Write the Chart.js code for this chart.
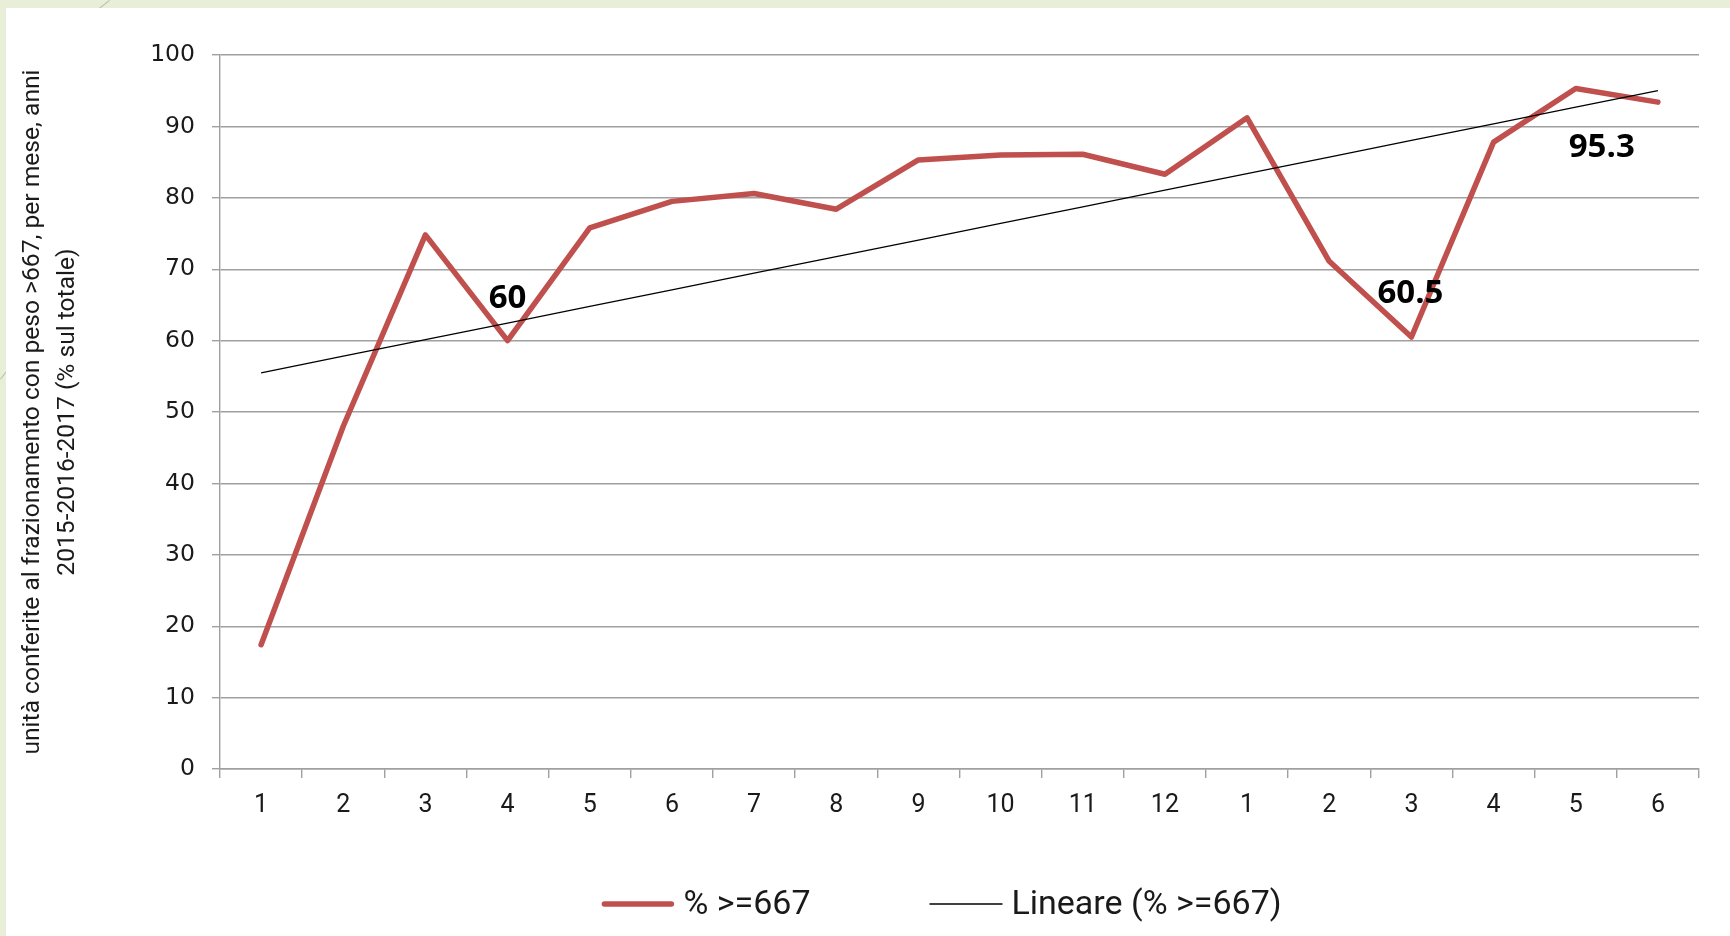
<!DOCTYPE html>
<html>
<head>
<meta charset="utf-8">
<script src="https://cdn.jsdelivr.net/npm/chart.js@4/dist/chart.umd.min.js"></script>
<style>
  html, body { margin: 0; padding: 0; }
  body { width: 1730px; height: 936px; background: #e9eed8; position: relative; overflow: hidden; }
  #panel { position: absolute; left: 6px; top: 8px; width: 1724px; height: 928px; background: #ffffff; }
  .deco { position: absolute; height: 1px; background: #b7bda0; transform-origin: 0 0; }
</style>
</head>
<body>
<div class="deco" style="left:99px; top:8px; width:13px; transform:rotate(-38deg);"></div>
<div class="deco" style="left:0px; top:379px; width:9px; transform:rotate(-52deg);"></div>
<div id="panel"><canvas id="chart"></canvas></div>
<script>
// Month numbers, Jan 2016 .. Jun 2017
const months = ['1', '2', '3', '4', '5', '6', '7', '8', '9', '10', '11', '12',
                '1', '2', '3', '4', '5', '6'];

// Share of units above 667 (% of total), per month
const share = [17.4, 48.0, 74.8, 60.0, 75.8, 79.5, 80.6, 78.4, 85.3, 86.0, 86.1, 83.3,
               91.2, 71.1, 60.5, 87.8, 95.3, 93.4];

// Months whose value is printed next to the point
const labelledMonths = [3, 14, 16];

const seriesName = '% >=667';
const trendName = 'Lineare (% >=667)';
const yTitle = ['unità conferite al frazionamento con peso >667, per mese, anni',
                '2015-2016-2017 (% sul totale)'];
const yMin = 0, yMax = 100, yStep = 10;

// Least-squares linear trend of the series
function linearTrend(values) {
  const n = values.length;
  const xs = values.map((_, i) => i + 1);
  const mx = xs.reduce((a, b) => a + b, 0) / n;
  const my = values.reduce((a, b) => a + b, 0) / n;
  let sxy = 0, sxx = 0;
  xs.forEach((x, i) => { sxy += (x - mx) * (values[i] - my); sxx += (x - mx) * (x - mx); });
  const slope = sxy / sxx;
  return xs.map(x => my + slope * (x - mx));
}
const trend = linearTrend(share);

// Styling
const RED = '#c0504d';
const GRID = '#a0a0a0';
const TEXT = '#1a1a1a';
const SANS = '"Roboto", sans-serif';
const labelOffsets = { 3: [0, -42], 14: [-1, -43], 16: [26, 59] };

// Value labels beside the highlighted points
const valueLabels = {
  id: 'valueLabels',
  afterDatasetsDraw(chart) {
    const ctx = chart.ctx;
    const meta = chart.getDatasetMeta(0);
    ctx.save();
    ctx.font = 'bold 33px "Open Sans", sans-serif';
    ctx.fillStyle = '#000';
    ctx.textAlign = 'center';
    ctx.textBaseline = 'middle';
    labelledMonths.forEach(i => {
      const p = meta.data[i];
      const off = labelOffsets[i] || [0, -40];
      ctx.fillText(String(share[i]), p.x + off[0], p.y + off[1]);
    });
    ctx.restore();
  }
};

// Legend row under the axis
const bottomLegend = {
  id: 'bottomLegend',
  afterDraw(chart) {
    const ctx = chart.ctx;
    const area = chart.chartArea;
    ctx.save();
    ctx.font = '34px ' + SANS;
    ctx.textBaseline = 'middle';
    ctx.fillStyle = TEXT;
    const items = [
      { text: seriesName, color: RED, width: 5.5 },
      { text: trendName, color: '#000', width: 1.3 }
    ];
    const sample = 73, gapText = 9, gapItem = 119;
    const widths = items.map(it => sample + gapText + ctx.measureText(it.text).width);
    const total = widths[0] + gapItem + widths[1];
    let x = (area.left + area.right) / 2 - 18 - total / 2;
    const y = area.bottom + 135;
    items.forEach((it, k) => {
      const thick = it.width > 2;
      ctx.beginPath();
      ctx.strokeStyle = it.color;
      ctx.lineWidth = it.width;
      ctx.lineCap = thick ? 'round' : 'butt';
      ctx.moveTo(x + (thick ? 3 : 0), y);
      ctx.lineTo(x + sample - (thick ? 3 : 0), y);
      ctx.stroke();
      ctx.fillText(it.text, x + sample + gapText, y + 1);
      x += widths[k] + gapItem;
    });
    ctx.restore();
  }
};

new Chart(document.getElementById('chart'), {
  type: 'line',
  data: {
    labels: months,
    datasets: [
      {
        label: seriesName,
        data: share,
        borderColor: RED,
        backgroundColor: RED,
        borderWidth: 5.5,
        pointRadius: 0,
        tension: 0,
        borderJoinStyle: 'round',
        borderCapStyle: 'round',
        order: 2
      },
      {
        label: trendName,
        data: trend,
        borderColor: '#000000',
        borderWidth: 1.3,
        pointRadius: 0,
        tension: 0,
        order: 1
      }
    ]
  },
  options: {
    responsive: true,
    maintainAspectRatio: false,
    animation: false,
    layout: { padding: { left: 0, top: 47, right: 31, bottom: 107 } },
    plugins: {
      legend: { display: false },
      tooltip: { enabled: false }
    },
    scales: {
      x: {
        type: 'category',
        offset: true,
        grid: { offset: true, drawOnChartArea: false, color: GRID, lineWidth: 1.4, tickLength: 9 },
        border: { color: GRID, width: 1.4 },
        ticks: { color: TEXT, font: { family: SANS, size: 25 }, padding: 13, maxRotation: 0, autoSkip: false },
        afterFit(scale) { scale.height = 60; }
      },
      y: {
        min: yMin,
        max: yMax,
        ticks: { stepSize: yStep, color: TEXT, font: { family: '"DejaVu Sans", sans-serif', size: 23.5 }, padding: 17 },
        grid: { color: GRID, lineWidth: 1.4, tickLength: 8 },
        border: { color: GRID, width: 1.4 },
        title: {
          display: true,
          text: yTitle,
          color: TEXT,
          font: { family: SANS, size: 24.6, lineHeight: 1.4 },
          padding: { top: 10, bottom: 0 }
        },
        afterFit(scale) { scale.width = 214; }
      }
    }
  },
  plugins: [valueLabels, bottomLegend]
});
</script>
</body>
</html>
